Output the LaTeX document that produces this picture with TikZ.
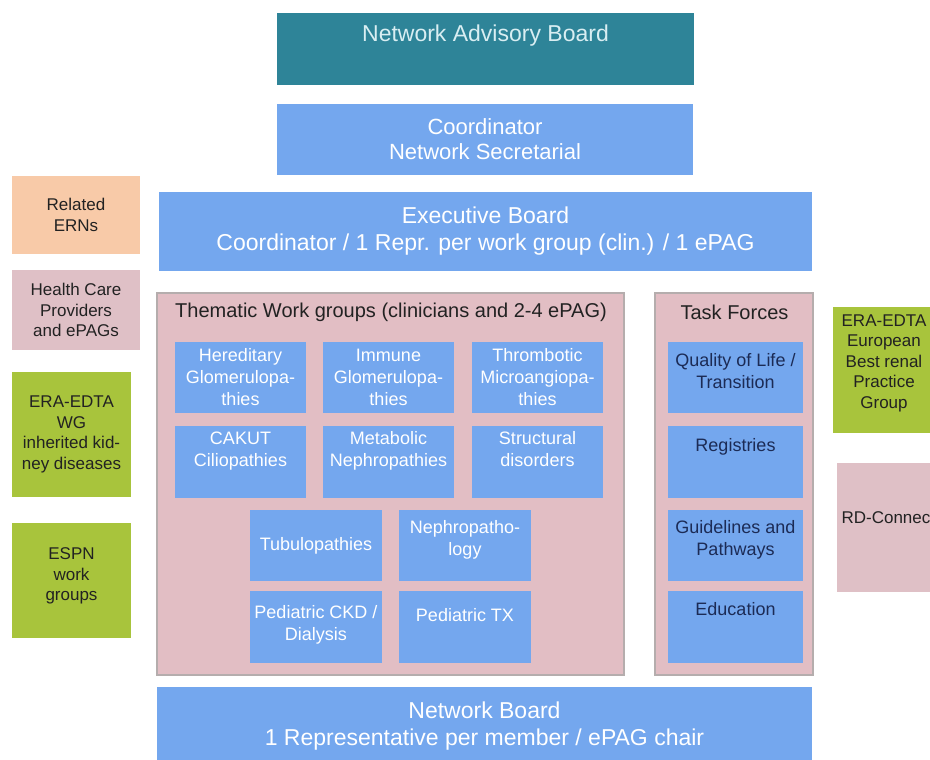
\documentclass[tikz,border=0pt]{standalone}
\usepackage{fontspec}
\setmainfont{Liberation Sans}
\usetikzlibrary{positioning}

\definecolor{advteal}{HTML}{2E8498}
\definecolor{advtext}{HTML}{D9EEF2}
\definecolor{netblue}{HTML}{74A7EE}
\definecolor{grppink}{HTML}{E2BEC4}
\definecolor{grpgray}{HTML}{B5ADAD}
\definecolor{ernpeach}{HTML}{F8CAA8}
\definecolor{hcppink}{HTML}{DFC0C6}
\definecolor{eragreen}{HTML}{A8C43C}
\definecolor{tfnavy}{HTML}{1C2B55}
\definecolor{darktext}{HTML}{222222}

\tikzstyle{boardtext} = [align=center, inner sep=0pt, font=\fontsize{23}{27}\selectfont]
\tikzstyle{board} = [boardtext, fill=netblue, text=white]
\tikzstyle{sidetext} = [align=center, inner sep=0pt, text=darktext, font=\fontsize{17}{20.5}\selectfont]
\tikzstyle{side} = [sidetext, minimum width=128pt]
\tikzstyle{grouptitle} = [inner sep=0pt, text=darktext, font=\fontsize{20}{24}\selectfont]
\tikzstyle{group} = [fill=grppink, draw=grpgray, line width=2.5pt]
\tikzstyle{wgtext} = [align=center, inner sep=0pt, text=white, font=\fontsize{18}{22}\selectfont]
\tikzstyle{wg} = [wgtext, fill=netblue, minimum width=131pt, minimum height=71.5pt]
\tikzstyle{tftext} = [wgtext, text=tfnavy]
\tikzstyle{tf} = [wg, text=tfnavy, minimum width=135pt]

\begin{document}
\begin{tikzpicture}[x=1pt, y=-1pt]

  \fill[white] (0,0) rectangle (930,760);
  \useasboundingbox (0,0) rectangle (930,760);
  \clip (0,0) rectangle (930,760);

  % boards
  \node[board, fill=advteal, minimum width=417pt, minimum height=72pt,
    label={[boardtext, text=advtext, yshift=13pt]center:Network Advisory Board}] (advisory) at (485.5,49) {};
  \node[board, minimum width=416pt, minimum height=71pt, font=\fontsize{22}{25}\selectfont] (coord) at (485,139.5) {Coordinator\\Network Secretarial};
  \node[board, minimum width=653pt, minimum height=79pt] (exec) at (485.5,231.5) {Executive Board\\Coordinator / 1 Repr. per work group (clin.) / 1 ePAG};
  \node[board, minimum width=655pt, minimum height=78pt] (netboard) at (484.5,726) {Network Board\\1 Representative per member / ePAG chair};

  % partners, left
  \node[side, fill=ernpeach, minimum height=78pt] (erns) at (76,215) {Related\\ERNs};
  \node[side, fill=hcppink, minimum height=80pt] (hcp) at (76,310) {Health Care\\Providers\\and ePAGs};
  \node[side, fill=eragreen, minimum width=119pt, minimum height=125pt] (erawg) at (71.5,434.5) {ERA-EDTA\\WG\\inherited kid-\\ney diseases};
  \node[side, fill=eragreen, minimum width=119pt, minimum height=115pt,
    label={[sidetext, yshift=4.5pt]center:{ESPN\\work\\groups}}] (espn) at (71.5,580.5) {};

  % partners, right
  \node[side, fill=eragreen, minimum width=102pt, minimum height=126pt,
    label={[sidetext, yshift=7pt]center:{ERA-EDTA\\European\\Best renal\\Practice\\Group}}] (erbp) at (884,370) {};
  \node[side, fill=hcppink, minimum width=103pt, minimum height=129pt,
    label={[sidetext, yshift=9.5pt, xshift=-2.5pt]center:RD-Connec}] (rdc) at (888.5,527.5) {};

  % thematic work groups
  \node[group, minimum width=467pt, minimum height=382pt] (thematic) at (390.5,484) {};
  \node[grouptitle, anchor=west] (thematic-t) at (175,312) {Thematic Work groups (clinicians and 2-4 ePAG)};

  \node[wg] (hered) at (240.5,377.5) {Hereditary\\Glomerulopa-\\thies};
  \node[wg] (immune) at (388.5,377.5) {Immune\\Glomerulopa-\\thies};
  \node[wg] (thromb) at (537.5,377.5) {Thrombotic\\Microangiopa-\\thies};
  \node[wg, label={[wgtext, yshift=11pt]center:{CAKUT\\Ciliopathies}}] (cakut) at (240.5,462) {};
  \node[wg, label={[wgtext, yshift=11pt]center:{Metabolic\\Nephropathies}}] (metab) at (388.5,462) {};
  \node[wg, label={[wgtext, yshift=13pt]center:{Structural\\disorders}}] (struct) at (537.5,462) {};
  \node[wg, minimum width=132pt] (tubulo) at (316,545.5) {Tubulopathies};
  \node[wg, minimum width=132pt, label={[wgtext, yshift=6pt]center:{Nephropatho-\\logy}}] (nephpath) at (465,545.5) {};
  \node[wg, minimum width=132pt, label={[wgtext, yshift=2pt]center:{Pediatric CKD /\\Dialysis}}] (pedckd) at (316,627) {};
  \node[wg, minimum width=132pt, label={[wgtext, yshift=12pt]center:Pediatric TX}] (pedtx) at (465,627) {};

  % task forces
  \node[group, minimum width=158pt, minimum height=382pt] (tasks) at (734,484) {};
  \node[grouptitle] (tasks-t) at (734.5,312) {Task Forces};

  \node[tf, label={[tftext, yshift=6pt]center:{Quality of Life /\\Transition}}] (qol) at (735.5,377.5) {};
  \node[tf, label={[tftext, yshift=15pt]center:Registries}] (regis) at (735.5,462) {};
  \node[tf, label={[tftext, yshift=6pt]center:{Guidelines and\\Pathways}}] (guide) at (735.5,545.5) {};
  \node[tf, label={[tftext, yshift=18pt]center:Education}] (educ) at (735.5,627) {};

\end{tikzpicture}
\end{document}
